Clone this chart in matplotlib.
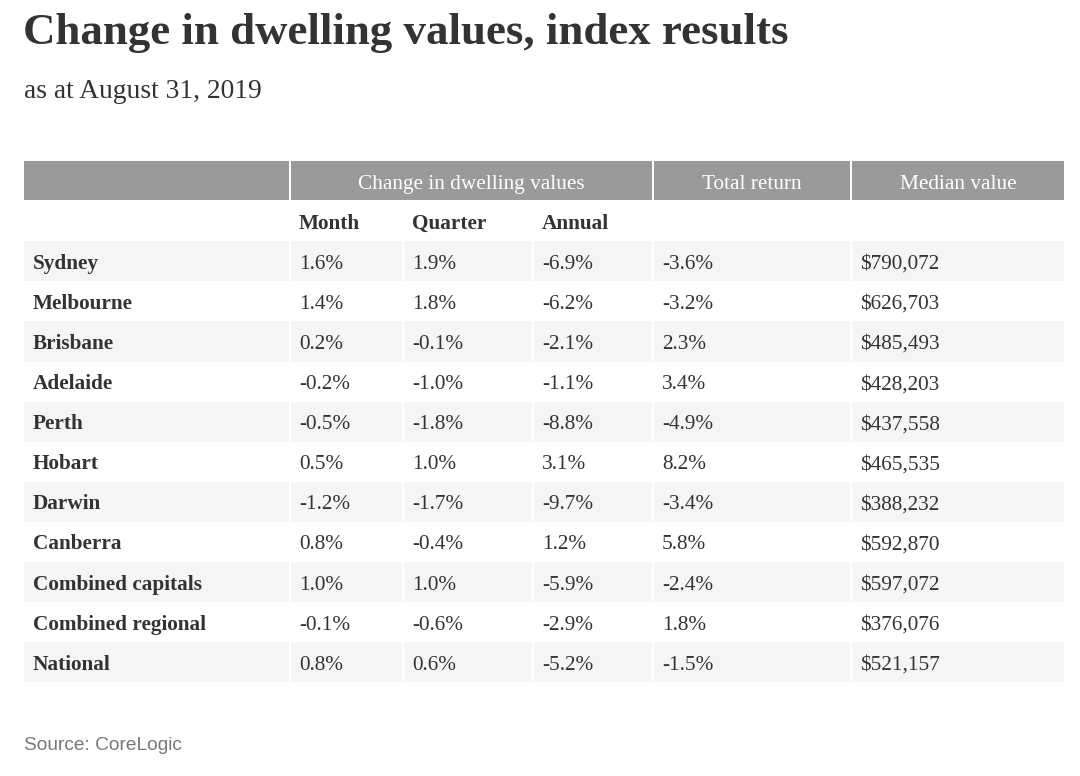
import matplotlib.pyplot as plt
from matplotlib.patches import Rectangle

# table content
cities = ["Sydney", "Melbourne", "Brisbane", "Adelaide", "Perth", "Hobart",
          "Darwin", "Canberra", "Combined capitals", "Combined regional", "National"]
month = ["1.6%", "1.4%", "0.2%", "-0.2%", "-0.5%", "0.5%", "-1.2%", "0.8%", "1.0%", "-0.1%", "0.8%"]
quarter = ["1.9%", "1.8%", "-0.1%", "-1.0%", "-1.8%", "1.0%", "-1.7%", "-0.4%", "1.0%", "-0.6%", "0.6%"]
annual = ["-6.9%", "-6.2%", "-2.1%", "-1.1%", "-8.8%", "3.1%", "-9.7%", "1.2%", "-5.9%", "-2.9%", "-5.2%"]
total_return = ["-3.6%", "-3.2%", "2.3%", "3.4%", "-4.9%", "8.2%", "-3.4%", "5.8%", "-2.4%", "1.8%", "-1.5%"]
median_value = ["$790,072", "$626,703", "$485,493", "$428,203", "$437,558", "$465,535",
                "$388,232", "$592,870", "$597,072", "$376,076", "$521,157"]

group_headers = ["", "Change in dwelling values", "Total return", "Median value"]
sub_headers = ["", "Month", "Quarter", "Annual", "", ""]

title = "Change in dwelling values, index results"
subtitle = "as at August 31, 2019"
source = "Source: CoreLogic"

# layout (pixels)
W, H = 1080, 776
col_edges = [24, 290, 403, 533, 653, 851, 1064]
group_spans = [(0, 1), (1, 4), (4, 5), (5, 6)]
top_band = 161
row_h = 40.1
gap = 2
base_off = 7.5   # baseline below row centre
txt = "#333333"
serif = "Liberation Serif"
fs = 15.3

fig = plt.figure(figsize=(W / 100, H / 100), dpi=100)
ax = fig.add_axes([0, 0, 1, 1])
ax.set_xlim(0, W)
ax.set_ylim(H, 0)
ax.axis("off")

ax.text(23, 33, title, fontsize=32.3, fontweight="bold", family=serif, color=txt, va="center")
ax.text(24, 92, subtitle, fontsize=19.8, family=serif, color=txt, va="center")

# gray header band
for (a, b), label in zip(group_spans, group_headers):
    x0 = col_edges[a] + (gap / 2 if a > 0 else 0)
    x1 = col_edges[b] - (gap / 2 if b < 6 else 0)
    ax.add_patch(Rectangle((x0, top_band), x1 - x0, row_h - 1, color="#9a9a9a", lw=0))
    if label:
        ax.text((x0 + x1) / 2, top_band + row_h / 2 + base_off, label, fontsize=fs, family=serif,
                color="white", ha="center", va="baseline")

# sub header row
y = top_band + row_h
for i, lab in enumerate(sub_headers):
    if lab:
        ax.text(col_edges[i] + 9, y + row_h / 2 + base_off, lab, fontsize=fs, family=serif,
                fontweight="bold", color=txt, va="baseline")

# data rows
columns = [cities, month, quarter, annual, total_return, median_value]
for r in range(len(cities)):
    y = top_band + row_h * (r + 2)
    if r % 2 == 0:
        for c in range(6):
            x0 = col_edges[c] + (gap / 2 if c > 0 else 0)
            x1 = col_edges[c + 1] - (gap / 2 if c < 5 else 0)
            ax.add_patch(Rectangle((x0, y), x1 - x0, row_h, color="#f5f5f5", lw=0))
    for c, col in enumerate(columns):
        ax.text(col_edges[c] + 9, y + row_h / 2 + base_off, col[r], fontsize=fs, family=serif,
                fontweight="bold" if c == 0 else "normal", color=txt, va="baseline")

ax.text(24, 746, source, fontsize=13.8, family="Liberation Sans", color="#777777", va="center")

fig.savefig("out.png", dpi=100)
